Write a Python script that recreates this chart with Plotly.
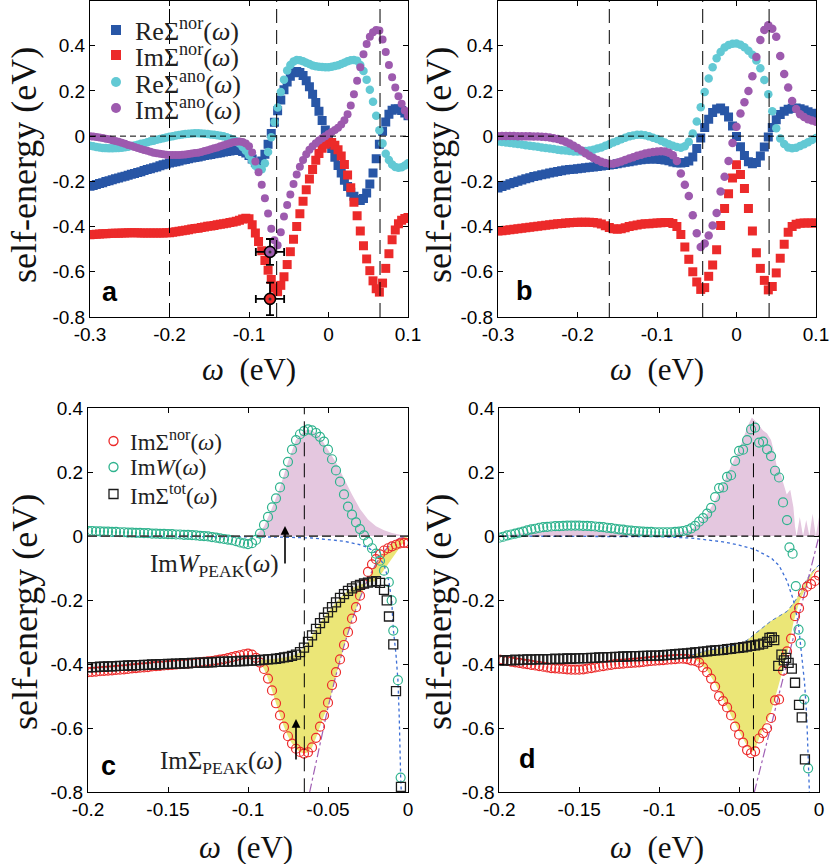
import plotly.graph_objects as go

W, H = 837, 864

# ---------------- Panel a (omega step 0.004 eV) ----------------
omega_a = [round(-0.30 + 0.004 * i, 4) for i in range(101)]
re_nor_a = [-0.222, -0.218, -0.214, -0.210, -0.206, -0.201, -0.197, -0.193, -0.189, -0.185,
            -0.181, -0.177, -0.173, -0.169, -0.165, -0.161, -0.157, -0.152, -0.148, -0.144,
            -0.140, -0.136, -0.131, -0.127, -0.123, -0.119, -0.116, -0.113, -0.110, -0.106,
            -0.103, -0.100, -0.097, -0.094, -0.092, -0.089, -0.086, -0.083, -0.081, -0.078,
            -0.076, -0.073, -0.070, -0.068, -0.066, -0.064, -0.063, -0.064, -0.068, -0.075,
            -0.086, -0.101, -0.117, -0.122, -0.110, -0.080, -0.036, 0.012, 0.061, 0.112,
            0.160, 0.205, 0.240, 0.265, 0.280, 0.286, 0.282, 0.268, 0.245, 0.218,
            0.185, 0.149, 0.110, 0.069, 0.027, -0.015, -0.055, -0.093, -0.130, -0.163,
            -0.195, -0.223, -0.248, -0.266, -0.280, -0.285, -0.276, -0.252, -0.212, -0.163,
            -0.100, -0.036, 0.022, 0.063, 0.097, 0.115, 0.121, 0.120, 0.113, 0.102,
            0.090]
im_nor_a = [-0.436, -0.435, -0.434, -0.433, -0.432, -0.432, -0.431, -0.430, -0.429, -0.429,
            -0.428, -0.428, -0.427, -0.427, -0.427, -0.427, -0.428, -0.428, -0.428, -0.428,
            -0.428, -0.428, -0.428, -0.428, -0.427, -0.427, -0.425, -0.423, -0.421, -0.418,
            -0.416, -0.414, -0.411, -0.409, -0.407, -0.404, -0.402, -0.399, -0.397, -0.395,
            -0.392, -0.390, -0.387, -0.385, -0.382, -0.380, -0.377, -0.372, -0.367, -0.363,
            -0.365, -0.392, -0.428, -0.466, -0.507, -0.550, -0.593, -0.634, -0.672, -0.688,
            -0.660, -0.622, -0.568, -0.511, -0.456, -0.400, -0.343, -0.288, -0.237, -0.190,
            -0.148, -0.107, -0.077, -0.054, -0.036, -0.026, -0.028, -0.040, -0.060, -0.088,
            -0.125, -0.172, -0.228, -0.292, -0.352, -0.420, -0.485, -0.543, -0.595, -0.640,
            -0.675, -0.690, -0.650, -0.585, -0.520, -0.458, -0.415, -0.388, -0.372, -0.364,
            -0.360]
re_ano_a = [-0.043, -0.045, -0.048, -0.050, -0.052, -0.053, -0.054, -0.054, -0.053, -0.052,
            -0.051, -0.049, -0.047, -0.044, -0.041, -0.038, -0.034, -0.031, -0.027, -0.023,
            -0.020, -0.016, -0.013, -0.009, -0.006, -0.003, 0.000, 0.003, 0.005, 0.007,
            0.010, 0.011, 0.012, 0.013, 0.013, 0.012, 0.011, 0.009, 0.007, 0.006,
            0.004, 0.002, -0.001, -0.005, -0.010, -0.015, -0.023, -0.033, -0.048, -0.065,
            -0.085, -0.109, -0.131, -0.145, -0.146, -0.120, -0.070, -0.005, 0.062, 0.127,
            0.195, 0.250, 0.290, 0.315, 0.330, 0.337, 0.336, 0.331, 0.325, 0.319,
            0.313, 0.309, 0.307, 0.306, 0.305, 0.305, 0.307, 0.310, 0.314, 0.319,
            0.325, 0.331, 0.336, 0.337, 0.333, 0.315, 0.288, 0.250, 0.205, 0.152,
            0.090, 0.026, -0.032, -0.078, -0.106, -0.125, -0.136, -0.140, -0.138, -0.130,
            -0.120]
im_ano_a = [-0.001, -0.002, -0.004, -0.006, -0.008, -0.011, -0.014, -0.018, -0.021, -0.025,
            -0.029, -0.034, -0.039, -0.043, -0.048, -0.053, -0.057, -0.061, -0.065, -0.069,
            -0.073, -0.076, -0.078, -0.080, -0.082, -0.083, -0.083, -0.083, -0.083, -0.082,
            -0.081, -0.079, -0.077, -0.075, -0.073, -0.070, -0.066, -0.062, -0.058, -0.054,
            -0.050, -0.045, -0.040, -0.036, -0.031, -0.027, -0.025, -0.024, -0.026, -0.032,
            -0.045, -0.072, -0.112, -0.160, -0.215, -0.275, -0.342, -0.410, -0.460, -0.483,
            -0.425, -0.355, -0.305, -0.258, -0.212, -0.170, -0.135, -0.106, -0.080, -0.060,
            -0.045, -0.031, -0.019, -0.009, 0.000, 0.010, 0.018, 0.027, 0.037, 0.052,
            0.070, 0.097, 0.136, 0.185, 0.245, 0.305, 0.362, 0.408, 0.440, 0.460,
            0.470, 0.467, 0.428, 0.372, 0.315, 0.260, 0.215, 0.177, 0.143, 0.113,
            0.090]
err_x_a = [-0.0736, -0.0736]
err_y_a = [-0.512, -0.720]
err_dx_a = [0.0178, 0.0178]
err_dy_a = [0.057, 0.072]
vlines_a = [-0.20, -0.0652, 0.0648]

# ---------------- Panel b (omega step 0.005 eV) ----------------
omega_b = [round(-0.30 + 0.005 * i, 4) for i in range(81)]
re_nor_b = [-0.229, -0.223, -0.217, -0.211, -0.205, -0.199, -0.194, -0.189, -0.184, -0.179,
            -0.175, -0.171, -0.167, -0.163, -0.160, -0.156, -0.153, -0.150, -0.148, -0.146,
            -0.144, -0.142, -0.140, -0.138, -0.136, -0.134, -0.132, -0.130, -0.128, -0.125,
            -0.122, -0.119, -0.116, -0.113, -0.110, -0.107, -0.104, -0.102, -0.101, -0.101,
            -0.101, -0.103, -0.105, -0.109, -0.114, -0.118, -0.119, -0.117, -0.110, -0.092,
            -0.055, -0.008, 0.038, 0.075, 0.105, 0.120, 0.124, 0.112, 0.085, 0.045,
            -0.002, -0.047, -0.086, -0.113, -0.122, -0.117, -0.088, -0.048, -0.004, 0.038,
            0.072, 0.096, 0.110, 0.119, 0.123, 0.124, 0.121, 0.116, 0.108, 0.101,
            0.094]
im_nor_b = [-0.420, -0.418, -0.416, -0.414, -0.412, -0.410, -0.407, -0.405, -0.403, -0.401,
            -0.399, -0.396, -0.394, -0.392, -0.390, -0.388, -0.386, -0.384, -0.383, -0.382,
            -0.381, -0.381, -0.381, -0.381, -0.382, -0.384, -0.389, -0.396, -0.404, -0.410,
            -0.412, -0.410, -0.405, -0.400, -0.396, -0.393, -0.390, -0.388, -0.387, -0.385,
            -0.384, -0.383, -0.382, -0.382, -0.386, -0.400, -0.435, -0.490, -0.545, -0.600,
            -0.645, -0.678, -0.670, -0.620, -0.570, -0.502, -0.395, -0.320, -0.255, -0.185,
            -0.127, -0.170, -0.232, -0.320, -0.420, -0.516, -0.585, -0.638, -0.680, -0.665,
            -0.605, -0.540, -0.478, -0.425, -0.400, -0.390, -0.385, -0.384, -0.384, -0.384,
            -0.384]
re_ano_b = [-0.024, -0.026, -0.028, -0.030, -0.032, -0.035, -0.037, -0.040, -0.042, -0.045,
            -0.047, -0.050, -0.052, -0.055, -0.057, -0.060, -0.062, -0.064, -0.066, -0.068,
            -0.068, -0.068, -0.066, -0.063, -0.060, -0.055, -0.050, -0.043, -0.036, -0.028,
            -0.021, -0.014, -0.007, -0.001, 0.003, 0.006, 0.006, 0.004, -0.001, -0.007,
            -0.013, -0.020, -0.028, -0.036, -0.043, -0.048, -0.051, -0.045, -0.025, 0.012,
            0.065, 0.128, 0.195, 0.255, 0.305, 0.345, 0.372, 0.392, 0.403, 0.409,
            0.410, 0.404, 0.393, 0.378, 0.360, 0.335, 0.300, 0.248, 0.185, 0.110,
            0.035, -0.010, -0.035, -0.050, -0.054, -0.051, -0.044, -0.036, -0.027, -0.017,
            -0.008]
im_ano_b = [0.000, 0.001, 0.001, 0.001, 0.001, 0.000, 0.000, -0.001, -0.001, -0.002,
            -0.002, -0.003, -0.004, -0.006, -0.009, -0.013, -0.018, -0.025, -0.033, -0.043,
            -0.053, -0.064, -0.076, -0.087, -0.097, -0.106, -0.113, -0.119, -0.122, -0.122,
            -0.118, -0.112, -0.105, -0.099, -0.093, -0.087, -0.082, -0.077, -0.073, -0.070,
            -0.068, -0.067, -0.068, -0.073, -0.085, -0.110, -0.165, -0.215, -0.265, -0.350,
            -0.430, -0.490, -0.475, -0.440, -0.395, -0.340, -0.245, -0.180, -0.110, -0.030,
            0.042, 0.100, 0.150, 0.200, 0.265, 0.350, 0.425, 0.470, 0.490, 0.475,
            0.440, 0.355, 0.275, 0.215, 0.155, 0.120, 0.097, 0.085, 0.075, 0.069,
            0.064]
vlines_b = [-0.160, -0.0425, 0.041]

# ---------------- Panel c ----------------
omega_c = [round(-0.20 + 0.0025 * i, 5) for i in range(81)]
im_nor_c = [-0.425, -0.424, -0.423, -0.422, -0.421, -0.420, -0.419, -0.418, -0.417, -0.416,
            -0.415, -0.413, -0.412, -0.411, -0.410, -0.409, -0.407, -0.406, -0.405, -0.404,
            -0.403, -0.402, -0.401, -0.400, -0.399, -0.398, -0.397, -0.396, -0.394, -0.393,
            -0.391, -0.390, -0.388, -0.386, -0.384, -0.381, -0.378, -0.375, -0.372, -0.369,
            -0.367, -0.370, -0.380, -0.395, -0.415, -0.445, -0.482, -0.522, -0.560, -0.595,
            -0.625, -0.648, -0.664, -0.674, -0.679, -0.675, -0.660, -0.630, -0.595, -0.560,
            -0.520, -0.465, -0.425, -0.385, -0.340, -0.300, -0.258, -0.222, -0.186, -0.150,
            -0.112, -0.088, -0.072, -0.057, -0.045, -0.038, -0.032, -0.027, -0.023, -0.021,
            -0.022]
imw_c = [0.016, 0.016, 0.015, 0.015, 0.014, 0.014, 0.013, 0.013, 0.012, 0.012,
         0.011, 0.011, 0.010, 0.010, 0.009, 0.009, 0.008, 0.008, 0.007, 0.007,
         0.006, 0.006, 0.005, 0.005, 0.004, 0.004, 0.003, 0.002, 0.001, 0.000,
         -0.001, -0.003, -0.005, -0.007, -0.009, -0.011, -0.013, -0.016, -0.020, -0.023,
         -0.025, -0.022, -0.012, 0.008, 0.035, 0.060, 0.090, 0.118, 0.152, 0.195,
         0.232, 0.270, 0.300, 0.318, 0.328, 0.333, 0.330, 0.322, 0.310, 0.295,
         0.270, 0.240, 0.205, 0.170, 0.130, 0.092, 0.067, 0.043, 0.022, 0.002,
         -0.018, -0.038, -0.055, -0.077]
imw_c_tail_x = [-0.0150, -0.0120, -0.0102, -0.0092, -0.0063, -0.0046]
imw_c_tail_y = [-0.108, -0.144, -0.201, -0.295, -0.450, -0.754]
im_tot_c = [-0.410, -0.409, -0.409, -0.408, -0.408, -0.407, -0.407, -0.406, -0.405, -0.405,
            -0.404, -0.404, -0.403, -0.403, -0.402, -0.402, -0.401, -0.401, -0.400, -0.400,
            -0.399, -0.399, -0.398, -0.398, -0.397, -0.397, -0.396, -0.396, -0.395, -0.395,
            -0.394, -0.394, -0.393, -0.393, -0.392, -0.392, -0.391, -0.391, -0.390, -0.390,
            -0.389, -0.389, -0.388, -0.387, -0.386, -0.385, -0.384, -0.383, -0.381, -0.379,
            -0.377, -0.374, -0.370, -0.362, -0.348, -0.330, -0.310, -0.290, -0.272, -0.255,
            -0.238, -0.222, -0.207, -0.193, -0.181, -0.171, -0.163, -0.157, -0.152, -0.148,
            -0.145, -0.142, -0.141, -0.146, -0.168]
im_tot_c_tail_x = [-0.0133, -0.0119, -0.0092, -0.0075, -0.0044]
im_tot_c_tail_y = [-0.201, -0.251, -0.338, -0.484, -0.783]
imw_peak_c_x = [-0.100, -0.095, -0.090, -0.085, -0.080, -0.075, -0.070, -0.065, -0.0625, -0.060, -0.055,
                -0.050, -0.045, -0.040, -0.035, -0.030, -0.025, -0.020, -0.015, -0.010, -0.005, 0.0]
imw_peak_c_y = [0.0, 0.003, 0.030, 0.088, 0.152, 0.232, 0.300, 0.328, 0.333, 0.330, 0.310,
                0.270, 0.230, 0.180, 0.130, 0.085, 0.052, 0.031, 0.018, 0.010, 0.004, 0.0]
bg_w_c_x = [-0.20, -0.15, -0.10, -0.08, -0.06, -0.05, -0.04, -0.03, -0.025, -0.02, -0.015, -0.012,
            -0.0102, -0.0092, -0.0075, -0.0063, -0.0055, -0.0046, -0.0042]
bg_w_c_y = [0.0, -0.0005, -0.001, -0.003, -0.006, -0.010, -0.016, -0.027, -0.036, -0.052, -0.090, -0.140,
            -0.200, -0.290, -0.370, -0.450, -0.560, -0.750, -0.800]
fl_c_x = [-0.0615, -0.055, -0.050, -0.045, -0.040, -0.035, -0.030, -0.025, -0.020, -0.015, -0.010, -0.005, 0.0]
fl_c_y = [-0.800, -0.645, -0.535, -0.434, -0.343, -0.262, -0.193, -0.134, -0.086, -0.048, -0.021, -0.006, 0.0]
peak_tip_c_x = [-0.010, 0.0]
peak_tip_c_y = [-0.070, 0.0]
vline_c = -0.0648

# ---------------- Panel d ----------------
omega_d = [round(-0.20 + 0.0025 * i, 5) for i in range(81)]
im_nor_d = [-0.386, -0.388, -0.390, -0.392, -0.394, -0.396, -0.398, -0.400, -0.402, -0.404,
            -0.406, -0.408, -0.410, -0.412, -0.413, -0.414, -0.415, -0.416, -0.417, -0.417,
            -0.417, -0.416, -0.414, -0.412, -0.410, -0.408, -0.406, -0.404, -0.402, -0.400,
            -0.399, -0.398, -0.397, -0.396, -0.395, -0.394, -0.393, -0.391, -0.390, -0.389,
            -0.388, -0.387, -0.386, -0.385, -0.384, -0.383, -0.383, -0.384, -0.388, -0.390,
            -0.395, -0.410, -0.425, -0.445, -0.470, -0.500, -0.515, -0.535, -0.560, -0.595,
            -0.620, -0.645, -0.668, -0.678, -0.672, -0.632, -0.615, -0.600, -0.568, -0.513,
            -0.510, -0.420, -0.360, -0.320, -0.250, -0.225, -0.178, -0.158, -0.150, -0.140,
            -0.123]
imw_d = [-0.005, -0.002, 0.002, 0.005, 0.008, 0.011, 0.014, 0.018, 0.021, 0.023,
         0.026, 0.028, 0.029, 0.030, 0.031, 0.031, 0.032, 0.033, 0.033, 0.033,
         0.033, 0.032, 0.032, 0.031, 0.030, 0.029, 0.028, 0.026, 0.025, 0.023,
         0.021, 0.020, 0.018, 0.017, 0.016, 0.015, 0.014, 0.013, 0.013, 0.012,
         0.012, 0.012, 0.012, 0.012, 0.013, 0.014, 0.016, 0.019, 0.024, 0.032,
         0.045, 0.056, 0.070, 0.088, 0.122, 0.150, 0.152, 0.185, 0.190, 0.235,
         0.266, 0.270, 0.300, 0.333, 0.339, 0.292, 0.295, 0.271, 0.250, 0.204,
         0.183, 0.105, 0.050]
imw_d_tail_x = [-0.0185, -0.0165, -0.0145, -0.0128, -0.0115, -0.0092, -0.0068]
imw_d_tail_y = [-0.035, -0.055, -0.156, -0.292, -0.335, -0.510, -0.725]
im_tot_d = [-0.388, -0.389, -0.387, -0.388, -0.386, -0.387, -0.386, -0.385, -0.386, -0.385,
            -0.384, -0.385, -0.384, -0.384, -0.383, -0.384, -0.383, -0.382, -0.383, -0.382,
            -0.382, -0.381, -0.381, -0.380, -0.380, -0.379, -0.379, -0.378, -0.378, -0.377,
            -0.377, -0.376, -0.376, -0.375, -0.375, -0.375, -0.374, -0.374, -0.373, -0.373,
            -0.373, -0.372, -0.371, -0.370, -0.369, -0.368, -0.367, -0.366, -0.365, -0.363,
            -0.362, -0.361, -0.360, -0.358, -0.357, -0.356, -0.355, -0.353, -0.352, -0.350,
            -0.349, -0.347, -0.345, -0.343, -0.341, -0.339, -0.336, -0.330]
im_tot_d_tail_x = [-0.031, -0.0295, -0.028, -0.0255, -0.0235, -0.022, -0.0205, -0.019, -0.017,
                   -0.015, -0.0125, -0.0108, -0.0088]
im_tot_d_tail_y = [-0.318, -0.316, -0.325, -0.405, -0.370, -0.388, -0.380, -0.396, -0.414,
                   -0.458, -0.527, -0.566, -0.697]
imw_peak_d_x = [-0.2, -0.18, -0.16, -0.14, -0.12, -0.1, -0.09, -0.08, -0.075, -0.07, -0.065, -0.06,
                -0.055, -0.05, -0.047, -0.044, -0.042, -0.04, -0.0375, -0.035, -0.0325, -0.03, -0.028,
                -0.0265, -0.025, -0.0223, -0.0202, -0.018, -0.016, -0.015, -0.014, -0.012, -0.01,
                -0.008, -0.006, -0.004, -0.002, 0.0]
imw_peak_d_y = [0.0, 0.012, 0.02, 0.018, 0.01, 0.005, 0.008, 0.02, 0.04, 0.07, 0.11, 0.16,
                0.22, 0.27, 0.31, 0.35, 0.37, 0.36, 0.345, 0.33, 0.32, 0.30, 0.26,
                0.22, 0.215, 0.165, 0.13, 0.145, 0.09, 0.03, 0.0, 0.06, 0.0,
                0.05, 0.0, 0.07, 0.0, 0.06]
bg_w_d_x = [-0.2, -0.12, -0.1, -0.08, -0.07, -0.06, -0.05, -0.04, -0.03, -0.025, -0.02, -0.016,
            -0.013, -0.011, -0.009, -0.0077, -0.0066, -0.006]
bg_w_d_y = [0.0, -0.001, -0.002, -0.006, -0.012, -0.018, -0.028, -0.042, -0.068, -0.092, -0.14, -0.2,
            -0.27, -0.36, -0.46, -0.56, -0.70, -0.80]
fl_d_x = [-0.0405, -0.030, -0.020, -0.010, 0.0]
fl_d_y = [-0.800, -0.5925, -0.395, -0.1975, 0.0]
upper_d_x = [-0.08, -0.07, -0.06, -0.05, -0.045, -0.04, -0.035, -0.03, -0.025, -0.02, -0.016, -0.012,
             -0.008, -0.004, 0.0]
upper_d_y = [-0.372, -0.357, -0.348, -0.338, -0.325, -0.305, -0.285, -0.265, -0.25, -0.235, -0.21, -0.18,
             -0.138, -0.11, -0.09]
lower_d_x = [0.0, -0.004, -0.008, -0.012, -0.016, -0.02, -0.025, -0.03, -0.035, -0.04,
             -0.042, -0.045, -0.05, -0.055, -0.06, -0.065, -0.07, -0.075, -0.08]
lower_d_y = [-0.09, -0.12, -0.16, -0.20, -0.27, -0.37, -0.46, -0.55, -0.60, -0.665,
             -0.675, -0.655, -0.61, -0.56, -0.51, -0.46, -0.42, -0.395, -0.375]
vline_d = -0.041

# tick labels
y_ticks = [-0.8, -0.6, -0.4, -0.2, 0.0, 0.2, 0.4]
y_ticktext = ["-0.8", "-0.6", "-0.4", "-0.2", "0", "0.2", "0.4"]
x_ticks_ab = [-0.3, -0.2, -0.1, 0.0, 0.1]
x_ticktext_ab = ["-0.3", "-0.2", "-0.1", "0", "0.1"]
x_ticks_cd = [-0.2, -0.15, -0.1, -0.05, 0.0]
x_ticktext_cd = ["-0.2", "-0.15", "-0.1", "-0.05", "0"]

# ---------------- styling ----------------
SERIF = "Liberation Serif, Times New Roman, serif"
SANS = "Liberation Sans, Arial, Helvetica, sans-serif"
C_BLUE = "#2856a6"
C_RED = "#ec2a2a"
C_CYAN = "#62c9d4"
C_PURPLE = "#9d5aae"
C_GREEN = "#2fb38e"
C_PINK = "#e4c7df"
C_YELLOW = "#ebe677"
C_BLACK = "#1c1c1c"


def px(x):
    return x / W


def py(y):
    return 1 - y / H


fig = go.Figure()


def markers(x, y, xa, ya, symbol, color, size, lw=0):
    m = dict(symbol=symbol, size=size, color=color)
    if lw:
        m["line"] = dict(width=lw, color=color)
    else:
        m["line"] = dict(width=0)
    fig.add_trace(go.Scatter(x=x, y=y, mode="markers", marker=m, xaxis=xa, yaxis=ya,
                             showlegend=False, hoverinfo="skip"))


def line(x, y, xa, ya, color, dash, width=1.2):
    fig.add_trace(go.Scatter(x=x, y=y, mode="lines", line=dict(color=color, dash=dash, width=width),
                             xaxis=xa, yaxis=ya, showlegend=False, hoverinfo="skip"))


def fill(x, y, xa, ya, color, how):
    fig.add_trace(go.Scatter(x=x, y=y, mode="none", fill=how, fillcolor=color,
                             xaxis=xa, yaxis=ya, showlegend=False, hoverinfo="skip"))


# Panel a
markers(omega_a, re_nor_a, "x", "y", "square", C_BLUE, 9)
markers(omega_a, im_nor_a, "x", "y", "square", C_RED, 9)
markers(omega_a, re_ano_a, "x", "y", "circle", C_CYAN, 8.5)
markers(omega_a, im_ano_a, "x", "y", "circle", C_PURPLE, 8)
fig.add_trace(go.Scatter(
    x=err_x_a, y=err_y_a, mode="markers", xaxis="x", yaxis="y", showlegend=False,
    marker=dict(symbol="circle", size=11, color=[C_PURPLE, C_RED], line=dict(width=1.6, color="black")),
    error_x=dict(type="data", array=err_dx_a, color="black", thickness=1.8, width=4),
    error_y=dict(type="data", array=err_dy_a, color="black", thickness=1.8, width=4)))
fig.add_trace(go.Scatter(x=err_x_a, y=err_y_a, mode="markers", xaxis="x", yaxis="y", showlegend=False,
                         marker=dict(symbol="circle", size=3, color="#333")))

# Panel b
markers(omega_b, re_nor_b, "x2", "y2", "square", C_BLUE, 9)
markers(omega_b, im_nor_b, "x2", "y2", "square", C_RED, 9)
markers(omega_b, re_ano_b, "x2", "y2", "circle", C_CYAN, 8.5)
markers(omega_b, im_ano_b, "x2", "y2", "circle", C_PURPLE, 8.5)

# Panel c
fill(imw_peak_c_x, imw_peak_c_y, "x3", "y3", C_PINK, "tozeroy")
i0, i1 = 43, 73
poly_x = omega_c[i0:i1] + peak_tip_c_x
poly_y = im_tot_c[i0:i1] + peak_tip_c_y
for xx, yy in reversed(list(zip(fl_c_x, fl_c_y))):
    if xx >= -0.05:
        poly_x.append(xx)
        poly_y.append(yy)
for k in range(59, i0 - 1, -1):
    poly_x.append(omega_c[k])
    poly_y.append(im_nor_c[k])
fill(poly_x, poly_y, "x3", "y3", C_YELLOW, "toself")
line(bg_w_c_x, bg_w_c_y, "x3", "y3", "#3d6fd6", "dot", 1.3)
line(fl_c_x, fl_c_y, "x3", "y3", "#a060b4", "dashdot", 1.2)
markers(omega_c, im_nor_c, "x3", "y3", "circle-open", C_RED, 9, 1.2)
markers(omega_c[:len(imw_c)] + imw_c_tail_x, imw_c + imw_c_tail_y, "x3", "y3", "circle-open", C_GREEN, 9, 1.2)
markers(omega_c[:len(im_tot_c)] + im_tot_c_tail_x, im_tot_c + im_tot_c_tail_y, "x3", "y3",
        "square-open", C_BLACK, 9, 1.3)

# Panel d
fill(imw_peak_d_x, imw_peak_d_y, "x4", "y4", C_PINK, "tozeroy")
fill(upper_d_x + lower_d_x, upper_d_y + lower_d_y, "x4", "y4", C_YELLOW, "toself")
line(upper_d_x, upper_d_y, "x4", "y4", "#4a78c8", "4px,3px", 1.0)
line(bg_w_d_x, bg_w_d_y, "x4", "y4", "#3d6fd6", "dot", 1.3)
line(fl_d_x, fl_d_y, "x4", "y4", "#a060b4", "dashdot", 1.2)
markers(omega_d, im_nor_d, "x4", "y4", "circle-open", C_RED, 9, 1.2)
markers(omega_d[:len(imw_d)] + imw_d_tail_x, imw_d + imw_d_tail_y, "x4", "y4", "circle-open", C_GREEN, 9, 1.2)
markers(omega_d[:len(im_tot_d)] + im_tot_d_tail_x, im_tot_d + im_tot_d_tail_y, "x4", "y4",
        "square-open", C_BLACK, 9, 1.3)


def axis(domain, rng, tv, tt, anchor):
    return dict(domain=domain, range=rng, tickvals=tv, ticktext=tt, anchor=anchor,
                automargin=False,
                showline=True, linecolor="black", linewidth=1, mirror="ticks",
                ticks="inside", ticklen=5, tickwidth=1, tickcolor="black",
                showgrid=False, zeroline=False,
                tickfont=dict(family=SANS, size=19, color="black"))


dom_x_a = [90 / W, 408 / W]
dom_x_b = [498 / W, 816 / W]
dom_x_c = [88 / W, 408 / W]
dom_x_d = [499.3 / W, 819 / W]
dom_y_ab = [1 - 317 / H, 1 - 0.5 / H]
dom_y_cd = [1 - 792.3 / H, 1 - 408 / H]

fig.update_layout(
    template="none",
    width=W, height=H, autosize=False,
    margin=dict(l=0, r=0, t=0, b=0, pad=0),
    paper_bgcolor="white", plot_bgcolor="white",
    showlegend=False,
    xaxis=axis(dom_x_a, [-0.3, 0.1], x_ticks_ab, x_ticktext_ab, "y"),
    yaxis=axis(dom_y_ab, [-0.8, 0.6], y_ticks, y_ticktext, "x"),
    xaxis2=axis(dom_x_b, [-0.3, 0.1], x_ticks_ab, x_ticktext_ab, "y2"),
    yaxis2=axis(dom_y_ab, [-0.8, 0.6], y_ticks, y_ticktext, "x2"),
    xaxis3=axis(dom_x_c, [-0.2, 0.0], x_ticks_cd, x_ticktext_cd, "y3"),
    yaxis3=axis(dom_y_cd, [-0.8, 0.4], y_ticks, y_ticktext, "x3"),
    xaxis4=axis(dom_x_d, [-0.2, 0.0], x_ticks_cd, x_ticktext_cd, "y4"),
    yaxis4=axis(dom_y_cd, [-0.8, 0.4], y_ticks, y_ticktext, "x4"),
)

shapes = []
for xa, ya, vls in (("x", "y", vlines_a), ("x2", "y2", vlines_b), ("x3", "y3", [vline_c]), ("x4", "y4", [vline_d])):
    for v in vls:
        shapes.append(dict(type="line", xref=xa, yref=ya + " domain", x0=v, x1=v, y0=0, y1=1,
                           line=dict(color="black", width=1, dash="14px,7px"), layer="above"))
for xa, ya, st in (("x", "y", dict(color="black", width=1, dash="6px,4px")),
                   ("x2", "y2", dict(color="black", width=1, dash="6px,4px")),
                   ("x3", "y3", dict(color="#444444", width=1.8, dash="9px,4px")),
                   ("x4", "y4", dict(color="black", width=1.3, dash="7px,4px"))):
    shapes.append(dict(type="line", xref=xa + " domain", yref=ya, x0=0, x1=1, y0=0, y1=0,
                       line=st, layer="above"))

# legend swatches (panel a)
leg_a_rows = [30, 55, 82, 108]
leg_a_cols = [C_BLUE, C_RED, C_CYAN, C_PURPLE]
leg_a_kind = ["rect", "rect", "circle", "circle"]
leg_a_text = ["ReΣ<sup>nor</sup>(<i>ω</i>)", "ImΣ<sup>nor</sup>(<i>ω</i>)",
              "ReΣ<sup>ano</sup>(<i>ω</i>)", "ImΣ<sup>ano</sup>(<i>ω</i>)"]
for r, c, k in zip(leg_a_rows, leg_a_cols, leg_a_kind):
    shapes.append(dict(type=k, xref="paper", yref="paper", x0=px(111), x1=px(121),
                       y0=py(r + 5), y1=py(r - 5), fillcolor=c, line=dict(width=0)))
# legend swatches (panel c)
leg_c_rows = [441, 467, 494]
leg_c_cols = [C_RED, C_GREEN, C_BLACK]
leg_c_kind = ["circle", "circle", "rect"]
leg_c_text = ["ImΣ<sup>nor</sup>(<i>ω</i>)", "Im<i>W</i>(<i>ω</i>)", "ImΣ<sup>tot</sup>(<i>ω</i>)"]
for r, c, k in zip(leg_c_rows, leg_c_cols, leg_c_kind):
    shapes.append(dict(type=k, xref="paper", yref="paper", x0=px(109), x1=px(118),
                       y0=py(r + 4.5), y1=py(r - 4.5), fillcolor="rgba(0,0,0,0)",
                       line=dict(width=1.3, color=c)))
fig.update_layout(shapes=shapes)

ann = []
for r, t in zip(leg_a_rows, leg_a_text):
    ann.append(dict(x=px(133), y=py(r), xref="paper", yref="paper", xanchor="left", yanchor="middle",
                    text=t, showarrow=False, font=dict(family=SERIF, size=26, color="#222")))
for r, t in zip(leg_c_rows, leg_c_text):
    ann.append(dict(x=px(128), y=py(r), xref="paper", yref="paper", xanchor="left", yanchor="middle",
                    text=t, showarrow=False, font=dict(family=SERIF, size=23, color="#222")))
# axis titles
for (cx, cy) in ((24, 165), (439, 165), (25, 612), (439, 612)):
    ann.append(dict(x=px(cx), y=py(cy), xref="paper", yref="paper", xanchor="center", yanchor="middle",
                    text="self-energy (eV)", textangle=-90, showarrow=False,
                    font=dict(family=SERIF, size=36, color="#111")))
for (cx, cy) in ((249, 370), (657, 370), (246, 847), (657, 847)):
    ann.append(dict(x=px(cx), y=py(cy), xref="paper", yref="paper", xanchor="center", yanchor="middle",
                    text="<i>ω</i>&nbsp;&nbsp;(eV)", showarrow=False,
                    font=dict(family=SERIF, size=31, color="#111")))
# panel letters
for (cx, cy, t) in ((110, 292, "a"), (524, 291, "b"), (108, 766, "c"), (527, 759, "d")):
    ann.append(dict(x=px(cx), y=py(cy), xref="paper", yref="paper", xanchor="center", yanchor="middle",
                    text="<b>%s</b>" % t, showarrow=False, font=dict(family=SANS, size=27, color="black")))
# panel c labels and arrows
ann.append(dict(x=px(214), y=py(565), xref="paper", yref="paper", xanchor="center", yanchor="middle",
                text="Im<i>W</i><sub>PEAK</sub>(<i>ω</i>)", showarrow=False,
                font=dict(family=SERIF, size=25, color="#222")))
ann.append(dict(x=px(221), y=py(762), xref="paper", yref="paper", xanchor="center", yanchor="middle",
                text="ImΣ<sub>PEAK</sub>(<i>ω</i>)", showarrow=False,
                font=dict(family=SERIF, size=25, color="#222")))
for (tx, ty, tl) in ((285, 526, 39), (296, 719, 42)):
    ann.append(dict(x=px(tx), y=py(ty), xref="paper", yref="paper", text="", showarrow=True,
                    ax=0, ay=tl, arrowhead=2, arrowsize=1.1, arrowwidth=1.6, arrowcolor="black"))
fig.update_layout(annotations=ann)

fig.write_html("out.html")
